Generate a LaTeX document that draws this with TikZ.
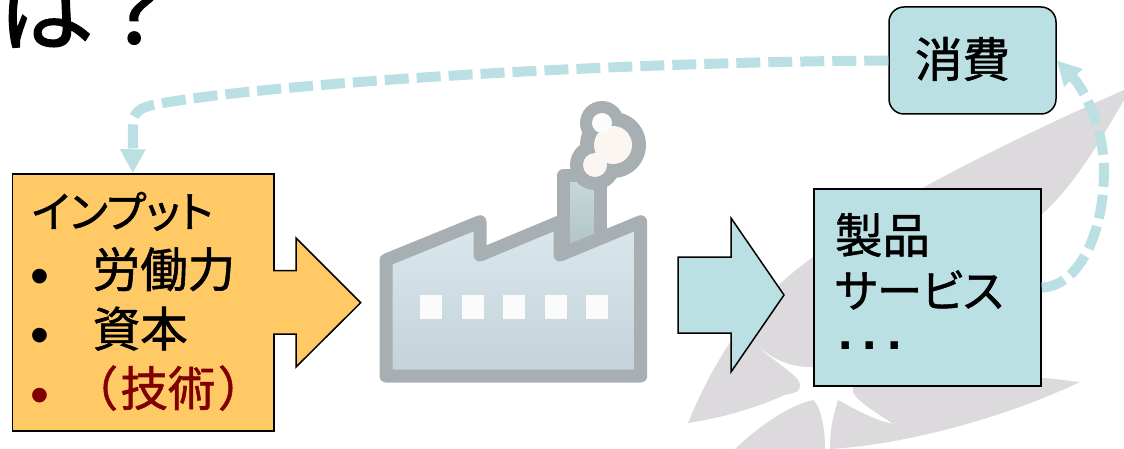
\documentclass[tikz,border=0pt]{standalone}
\usepackage{fontspec}
\setmainfont{Noto Sans CJK JP}[RawFeature=+palt,FakeBold=1.2]
\newfontfamily\bulletfont{Liberation Sans}
\usetikzlibrary{positioning, arrows.meta}
\definecolor{inorange}{HTML}{FFC966}
\definecolor{outcyan}{HTML}{BBE0E3}
\definecolor{leafgray}{HTML}{DCDADD}
\definecolor{factorygray}{HTML}{A7AFB2}
\definecolor{factorytop}{HTML}{DAE8EE}
\definecolor{factorybot}{HTML}{C3D2D8}
\definecolor{chimneytop}{HTML}{C8DAD9}
\definecolor{chimneybot}{HTML}{AEC3C3}
\definecolor{techred}{HTML}{800000}
\newcommand{\bul}{\makebox[61pt][l]{\hspace{-1pt}\raisebox{-7pt}{\bulletfont\fontsize{54}{54}\selectfont •}}}
\newcommand{\kana}{\fontsize{45}{54.5}\selectfont}
\newcommand{\sqdot}{\makebox[24.5pt][c]{\bulletfont\bfseries\fontsize{52}{52}\selectfont\raisebox{12pt}{.}}}

\begin{document}
\begin{tikzpicture}[
        x=1pt,
        y=-1pt,
        font=\fontsize{47.5}{59.5}\selectfont,
        inbox/.style={
            draw=black,
            fill=inorange,
            line width=1.5pt,
            minimum width=261.5pt,
            minimum height=257pt,
            text width=223pt,
            inner xsep=19pt,
            inner ysep=0pt,
            align=left
        },
        outbox/.style={
            draw=black,
            fill=outcyan,
            line width=1.5pt,
            minimum width=227pt,
            minimum height=197pt,
            text width=185pt,
            inner xsep=21pt,
            inner ysep=0pt,
            align=left,
            font=\fontsize{47.5}{54.5}\selectfont
        },
        usebox/.style={
            draw=black,
            fill=outcyan,
            line width=1.5pt,
            rounded corners=15pt,
            minimum width=167pt,
            minimum height=107pt,
            inner sep=0pt
        },
        blockarr/.style={draw=black, line width=1.5pt, line join=miter},
        flowarr/.style={
            -{Triangle[length=24pt,width=24pt]},
            draw=outcyan,
            line width=10pt,
            dash pattern=on 24pt off 8pt
        },
        factoryline/.style={draw=factorygray, line width=13pt, line join=round},
        leaf/.style={fill=leafgray, draw=none}
    ]

    \useasboundingbox (0,0) rectangle (1124,449);
    \clip (0,0) rectangle (1124,449);

    \fill[leaf] (688,423) .. controls (720,345) and (760,295) .. (813,257)
        .. controls (880,205) and (1010,140) .. (1124,90)
        -- (1124,100) .. controls (1095,150) and (1070,190) .. (1041,215)
        -- (1041,300) -- (813,367)
        .. controls (790,368) and (770,358) .. (753,342)
        .. controls (770,360) and (800,375) .. (800,385)
        .. controls (800,395) and (790,392) .. (780,397)
        .. controls (750,410) and (720,418) .. (688,423) -- cycle;
    \fill[leaf] (853,386) -- (1041,378) .. controls (1060,379) and (1060,380) .. (1080,382)
        .. controls (1000,420) and (900,445) .. (830,449) -- (830,449)
        .. controls (830,430) and (832,420) .. (838,400)
        .. controls (860,412) and (875,420) .. (893,424)
        .. controls (880,415) and (855,400) .. (853,392) -- cycle;
    \fill[leaf] (735,449) .. controls (760,425) and (790,405) .. (813,400)
        .. controls (820,405) and (825,425) .. (825,449) -- cycle;

    \node[anchor=base west, inner sep=0pt, font=\fontsize{96}{96}\selectfont] (title) at (-2,44) {は\hspace{6pt}？};

    \draw[blockarr, fill=outcyan] (678,257) -- (731,257) -- (731,218) -- (784,295)
        -- (731,372) -- (731,333) -- (678,333) -- cycle;

    \node[inbox] (input) at (143.25,302.5) {
        {\fontsize{43}{59.5}\selectfont インプット}\\
        \bul 労働力\\
        \bul 資本\\
        \textcolor{techred}{\bul （\hspace{4pt}技術\hspace{4pt}）}
    };
    \draw[blockarr, fill=inorange] (273,270.7) -- (296,270.7) -- (296,238) -- (360.7,302.7)
        -- (296,367) -- (296,334) -- (273,334);

    \node[outbox] (output) at (927.5,287.5) {
        製品\\
        {\kana サービス}\\
        \hspace*{-2pt}\sqdot\sqdot\sqdot
    };

    \node[usebox] (consume) at (972.5,60.5) {\raisebox{7pt}{\hspace{-20pt}消費}};

    \draw[flowarr] (consume.west) .. controls (600,62) and (250,85) .. (153,105)
        .. controls (140,108) and (133,112) .. (133,125) -- ([xshift=-10.5pt]input.north);
    \draw[flowarr] (output.east) .. controls (1075,287) and (1104,240) .. (1104,170)
        .. controls (1104,130) and (1085,90) .. (consume.east);

    \draw[factoryline, top color=chimneytop, bottom color=chimneybot] (563,176) -- (600,176) -- (600,255) -- (563,255) -- cycle;
    \fill[factorygray] (613,145) circle (33) (602,123) circle (22) (595,165) circle (25);
    \fill[white!93!brown] (613,145) circle (19) (595,165) circle (12);
    \fill[white!98!gray] (602,123) circle (10);
    \draw[factoryline, top color=factorytop, bottom color=factorybot]
        (386,260) -- (480,221.7) -- (480,255) -- (560,221.7) -- (560,255) -- (640.7,221.7)
        -- (640.7,376) -- (386,376) -- cycle;
    \foreach \winx in {420,461.5,503,544.5,586}
        \fill[white!97!gray] (\winx,295) rectangle ++(22,24);

\end{tikzpicture}
\end{document}
